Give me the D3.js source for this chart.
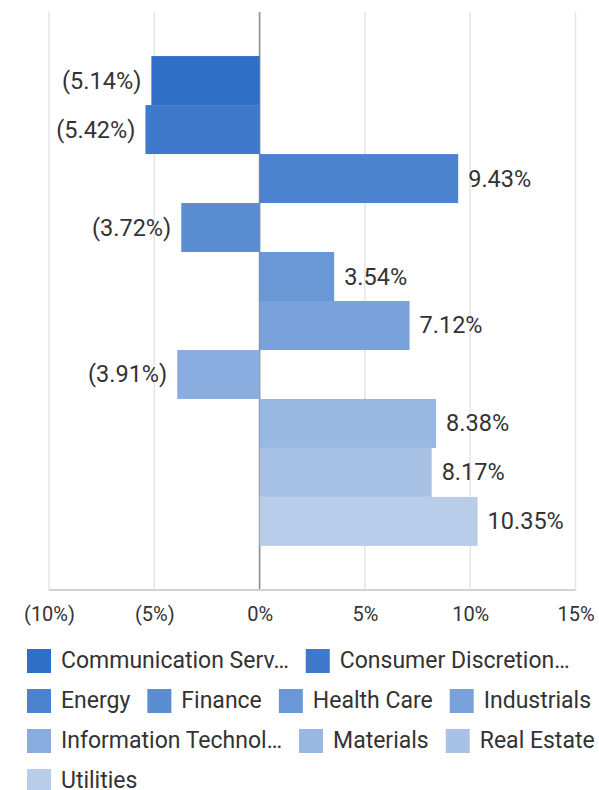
<!DOCTYPE html>
<html><head><meta charset="utf-8"><script src="https://cdn.jsdelivr.net/npm/d3@7"></script>
<style>body{margin:0;background:#fff}</style></head>
<body>
<svg id="chart" width="599" height="790"></svg>
<script>
// ---- data ----
const categories = ["Communication Services","Consumer Discretionary","Energy","Finance","Health Care","Industrials","Information Technology","Materials","Real Estate","Utilities"];
const values = [-5.14,-5.42,9.43,-3.72,3.54,7.12,-3.91,8.38,8.17,10.35];
const tickValues = [-10,-5,0,5,10,15];
const colors = ["#2F6FC8","#3E79CB","#4C83CF","#5B8DD3","#6A98D7","#7AA2DA","#89ADDE","#98B7E2","#A8C2E6","#B8CDEA"];

const FONT = "Roboto, 'Liberation Sans', sans-serif";
const TEXT = "#333333";
const fmt = v => v < 0 ? "(" + Math.abs(v).toFixed(2) + "%)" : v.toFixed(2) + "%";
const tickFmt = v => v < 0 ? "(" + Math.abs(v) + "%)" : v + "%";

const svg = d3.select("#chart");
const x = d3.scaleLinear().domain([-10, 15]).range([49, 575.5]);
const y = d3.scaleBand().domain(categories).range([12, 590]).paddingInner(0).paddingOuter(0.9);
const plotTop = 12, plotBottom = 590;

// gridlines
svg.append("g").selectAll("line").data(tickValues.filter(t => t !== 0)).join("line")
  .attr("x1", d => x(d)).attr("x2", d => x(d)).attr("y1", plotTop).attr("y2", plotBottom)
  .attr("stroke", "#e6e6e6").attr("stroke-width", 1.6);

// zero line
svg.append("line").attr("x1", x(0)).attr("x2", x(0)).attr("y1", plotTop).attr("y2", plotBottom)
  .attr("stroke", "#8c8c8c").attr("stroke-width", 1.6);

// bottom axis
const xAxis = d3.axisBottom(x).tickValues(tickValues).tickFormat(tickFmt).tickSize(0).tickPadding(0);
const ax = svg.append("g").attr("transform", `translate(0,${plotBottom})`).call(xAxis);
ax.select(".domain").attr("stroke", "#d2d2d2").attr("stroke-width", 2).attr("d", `M${x(-10)},0H${x(15)}`);
ax.selectAll(".tick text").attr("font-family", FONT).attr("font-size", 20).attr("fill", TEXT)
  .attr("dy", null).attr("y", 31);

// bars
svg.append("g").selectAll("rect").data(categories).join("rect")
  .attr("x", (d, i) => x(Math.min(0, values[i])))
  .attr("width", (d, i) => Math.abs(x(values[i]) - x(0)))
  .attr("y", d => y(d)).attr("height", y.bandwidth())
  .attr("fill", (d, i) => colors[i]);

// value labels
svg.append("g").selectAll("text").data(categories).join("text")
  .attr("x", (d, i) => values[i] < 0 ? x(values[i]) - 10 : x(values[i]) + 10)
  .attr("y", d => y(d) + y.bandwidth() / 2 + 8)
  .attr("text-anchor", (d, i) => values[i] < 0 ? "end" : "start")
  .attr("font-family", FONT).attr("font-size", 23.5).attr("fill", TEXT)
  .text((d, i) => fmt(values[i]));

// legend
const legend = svg.append("g");
const LX = 27, LY = 649, SW = 24, ROW = 40, GAP = 10, ITEMGAP = 17, MAXW = 232, LIMIT = 625;
let cx = LX, cy = LY;
categories.forEach((c, i) => {
  const t = legend.append("text").attr("font-family", FONT).attr("font-size", 23).attr("fill", TEXT).text(c);
  let s = c;
  if (t.node().getComputedTextLength() > MAXW) {
    while (s.length > 1) {
      s = s.slice(0, -1);
      t.text(s.trimEnd() + "…");
      if (t.node().getComputedTextLength() <= MAXW) break;
    }
  }
  const tw = t.node().getComputedTextLength();
  const w = SW + GAP + tw;
  if (cx > LX && cx + w > LIMIT) { cx = LX; cy += ROW; }
  legend.append("rect").attr("x", cx).attr("y", cy).attr("width", SW).attr("height", SW).attr("fill", colors[i]);
  t.attr("x", cx + SW + GAP).attr("y", cy + 18.5);
  cx += w + ITEMGAP;
});
</script></body></html>
